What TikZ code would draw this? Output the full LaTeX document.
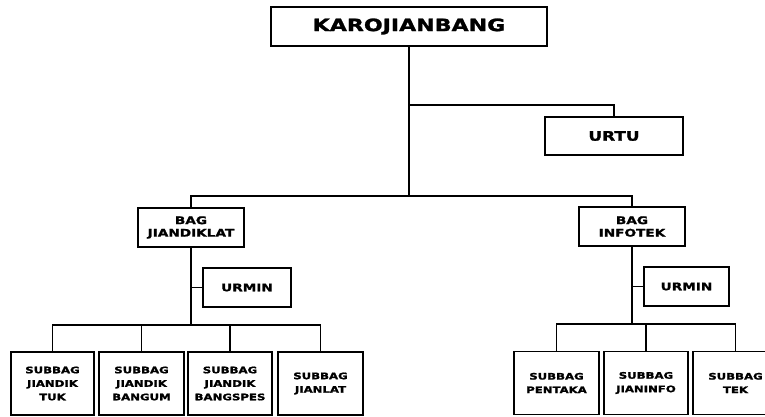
\documentclass[tikz,border=0pt]{standalone}
\usepackage{fontspec}
\newfontfamily\orgfont{DejaVu Sans}[FakeStretch=1.3, BoldFeatures={FakeBold=1.6}]
\begin{document}
\begin{tikzpicture}[x=1pt,y=-1pt,
  box/.style={draw=black,line width=1.9pt,fill=white,inner sep=0pt,align=center,font=\orgfont\bfseries},
  conn/.style={draw=black,line width=1.9pt},
  topbox/.style={box,minimum width=276pt,minimum height=39pt,font=\orgfont\bfseries\fontsize{17}{20}\selectfont},
  midbox/.style={box,minimum width=106pt,minimum height=39pt,font=\orgfont\bfseries\fontsize{10.5}{12.5}\selectfont},
  smallbox/.style={box,minimum width=86pt,minimum height=39pt,font=\orgfont\bfseries\fontsize{10.5}{12.5}\selectfont},
  leafbox/.style={box,minimum width=84pt,minimum height=63pt,font=\orgfont\bfseries\fontsize{9}{13.5}\selectfont}]
\useasboundingbox (0,0) rectangle (765,416);
\fill[white] (0,0) rectangle (765,416);
% nodes
\node[topbox] (top) at (409,26.5) {KAROJIANBANG};
\node[box,minimum width=138pt,minimum height=38pt,font=\orgfont\bfseries\fontsize{13}{15}\selectfont] (urtu) at (614,136) {URTU};
\node[midbox] (jl) at (191,227.5) {BAG\\JIANDIKLAT};
\node[midbox] (ji) at (632,226.5) {BAG\\INFOTEK};
\node[smallbox,minimum width=88pt] (uml) at (247,287.5) {URMIN};
\node[smallbox,minimum width=85pt] (umr) at (686.5,286.5) {URMIN};
\node[leafbox,minimum width=83pt] (b1) at (52.5,383.5) {SUBBAG\\JIANDIK\\TUK};
\node[leafbox,minimum width=85pt] (b2) at (141.5,383.5) {SUBBAG\\JIANDIK\\BANGUM};
\node[leafbox,minimum width=84pt] (b3) at (230,383.5) {SUBBAG\\JIANDIK\\BANGSPES};
\node[leafbox,minimum width=85pt] (b4) at (320.5,383.5) {SUBBAG\\JIANLAT};
\node[leafbox,minimum width=85pt] (r1) at (556.5,383) {SUBBAG\\PENTAKA};
\node[leafbox,minimum width=84pt] (r2) at (646,383) {SUBBAG\\JIANINFO};
\node[leafbox,minimum width=85pt,yshift=-1pt] (r3) at (735.5,382) {SUBBAG\\TEK};
% coordinates
\coordinate (urtuj) at (409,105);
\coordinate (bar) at (409,196);
\coordinate (lbar) at (191,325);
\coordinate (rbar) at (632,324);
% connectors
\draw[conn] (top.south) -- (bar);
\draw[conn] (urtuj) -| (urtu.north);
\draw[conn] (jl.north) |- (bar) -| (ji.north);
\draw[conn] (jl.south) -- (lbar);
\draw[conn] (uml.west) -- (uml.west -| jl.south);
\draw[conn] (b1.north) |- (lbar) -| (b4.north);
\draw[conn] (b2.north) -- (b2.north |- lbar);
\draw[conn] (b3.north) -- (b3.north |- lbar);
\draw[conn] (ji.south) -- (rbar);
\draw[conn] (umr.west) -- (umr.west -| ji.south);
\draw[conn] (r1.north) |- (rbar) -| (r3.north);
\draw[conn] (r2.north) -- (r2.north |- rbar);
\end{tikzpicture}
\end{document}
